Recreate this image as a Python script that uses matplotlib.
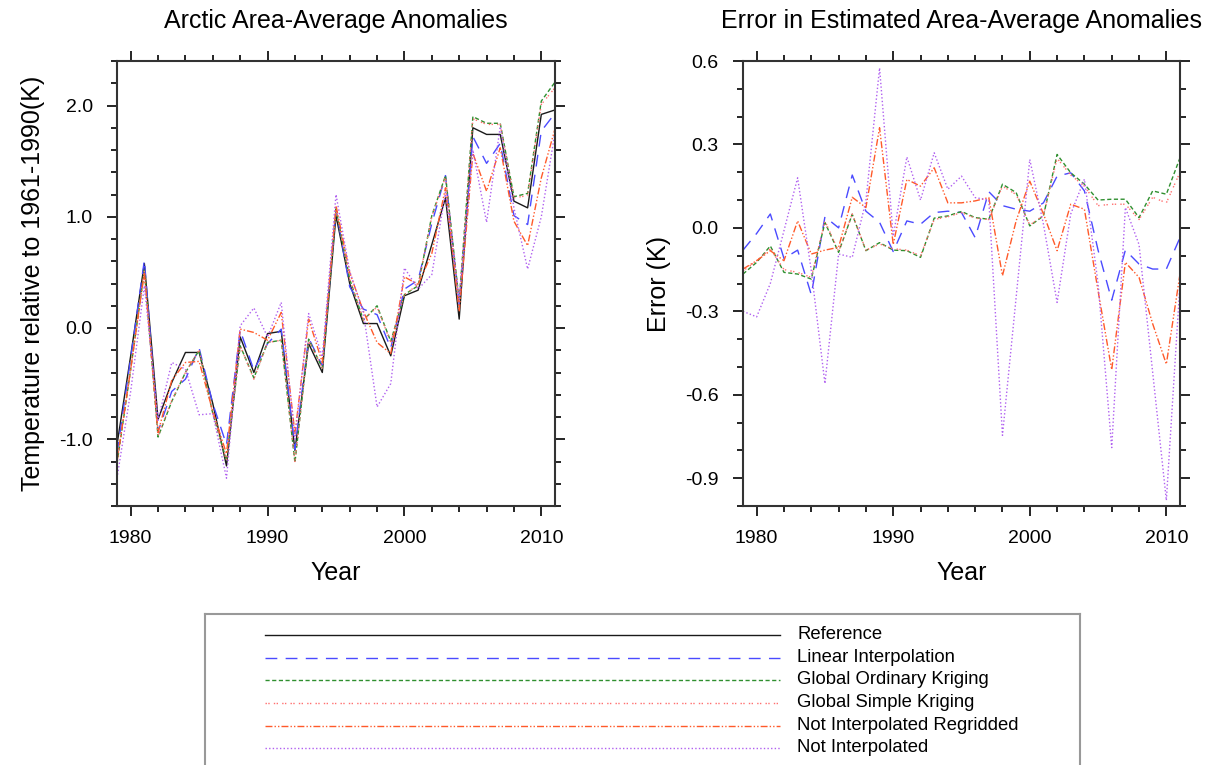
import matplotlib
matplotlib.use('Agg')
import matplotlib.pyplot as plt
from matplotlib.ticker import MultipleLocator, FormatStrFormatter

plt.rcParams['font.family'] = ['Liberation Sans', 'DejaVu Sans']
plt.rcParams['axes.unicode_minus'] = False

# 数据：年份与各方法的北极面平均距平 (K)
years = list(range(1979, 2012))

ref_anom = [-1.05, -0.25, 0.58, -0.82, -0.49, -0.22, -0.22, -0.68, -1.24, -0.08, -0.40,
            -0.05, -0.03, -1.10, -0.14, -0.40, 1.01, 0.40, 0.04, 0.04, -0.25, 0.29,
            0.34, 0.75, 1.17, 0.08, 1.80, 1.74, 1.74, 1.14, 1.08, 1.92, 1.96]
li_anom = [-1.13, -0.27, 0.61, -0.93, -0.57, -0.46, -0.18, -0.68, -1.05, -0.02, -0.38,
           -0.14, -0.01, -1.09, -0.09, -0.34, 1.07, 0.37, 0.17, 0.12, -0.18, 0.35,
           0.43, 0.94, 1.37, 0.21, 1.72, 1.48, 1.66, 1.01, 0.93, 1.77, 1.93]
gok_anom = [-1.22, -0.37, 0.52, -0.98, -0.66, -0.40, -0.20, -0.77, -1.19, -0.16, -0.45,
            -0.13, -0.11, -1.21, -0.10, -0.36, 1.07, 0.44, 0.07, 0.20, -0.12, 0.30,
            0.38, 1.01, 1.37, 0.24, 1.90, 1.84, 1.84, 1.18, 1.21, 2.04, 2.21]
gsk_anom = [-1.20, -0.37, 0.51, -0.97, -0.65, -0.40, -0.20, -0.77, -1.19, -0.16, -0.46,
            -0.13, -0.11, -1.20, -0.11, -0.36, 1.07, 0.44, 0.07, 0.19, -0.13, 0.30,
            0.39, 1.00, 1.36, 0.23, 1.88, 1.83, 1.83, 1.17, 1.19, 2.01, 2.16]
nir_anom = [-1.20, -0.37, 0.50, -0.94, -0.47, -0.31, -0.30, -0.75, -1.13, -0.01, -0.04,
            -0.11, 0.14, -0.95, 0.08, -0.31, 1.10, 0.50, 0.15, -0.13, -0.23, 0.46,
            0.39, 0.67, 1.26, 0.15, 1.57, 1.23, 1.62, 0.96, 0.74, 1.35, 1.79]
ni_anom = [-1.35, -0.57, 0.38, -0.83, -0.31, -0.37, -0.78, -0.77, -1.35, 0.02, 0.18,
           -0.08, 0.23, -1.00, 0.13, -0.26, 1.20, 0.51, 0.14, -0.71, -0.50, 0.54,
           0.35, 0.48, 1.22, 0.26, 1.60, 0.95, 1.81, 1.08, 0.53, 1.00, 1.76]

# 误差 (K)
li_err = [-0.08, -0.02, 0.05, -0.11, -0.08, -0.24, 0.04, 0.00, 0.19, 0.06, 0.02,
          -0.085, 0.025, 0.013, 0.055, 0.06, 0.055, -0.035, 0.13, 0.08, 0.067, 0.06,
          0.09, 0.186, 0.198, 0.133, -0.08, -0.26, -0.08, -0.13, -0.148, -0.148, -0.035]
gok_err = [-0.166, -0.124, -0.065, -0.16, -0.166, -0.184, 0.019, -0.088, 0.049, -0.082,
           -0.053, -0.08, -0.082, -0.106, 0.035, 0.043, 0.059, 0.037, 0.031, 0.157,
           0.127, 0.007, 0.043, 0.264, 0.198, 0.157, 0.10, 0.103, 0.103, 0.037, 0.133,
           0.121, 0.252]
gsk_err = [-0.155, -0.118, -0.075, -0.15, -0.16, -0.178, 0.025, -0.085, 0.05, -0.08,
           -0.058, -0.075, -0.08, -0.10, 0.03, 0.04, 0.055, 0.035, 0.03, 0.15, 0.12,
           0.01, 0.045, 0.25, 0.19, 0.15, 0.08, 0.085, 0.085, 0.03, 0.11, 0.09, 0.20]
nir_err = [-0.148, -0.118, -0.082, -0.118, 0.025, -0.094, -0.08, -0.07, 0.11, 0.073,
           0.36, -0.06, 0.174, 0.15, 0.216, 0.09, 0.09, 0.097, 0.109, -0.172, 0.025,
           0.168, 0.05, -0.082, 0.085, 0.067, -0.226, -0.51, -0.124, -0.178, -0.345,
           -0.49, -0.166]
ni_err = [-0.30, -0.32, -0.20, -0.01, 0.18, -0.154, -0.56, -0.094, -0.106, 0.097, 0.575,
          -0.03, 0.255, 0.10, 0.27, 0.139, 0.186, 0.109, 0.10, -0.746, -0.25, 0.246,
          0.013, -0.268, 0.05, 0.175, -0.20, -0.79, 0.073, -0.06, -0.52, -0.98, -0.20]

labels = ['Reference', 'Linear Interpolation', 'Global Ordinary Kriging',
          'Global Simple Kriging', 'Not Interpolated Regridded', 'Not Interpolated']

# 线型样式
styles = {
    'Reference': dict(color='#1a1a1a', linestyle='-'),
    'Linear Interpolation': dict(color='#4a4aff', linestyle=(0, (8.5, 6))),
    'Global Ordinary Kriging': dict(color='#2f8f2f', linestyle=(0, (3, 1.8))),
    'Global Simple Kriging': dict(color='#ff6f6f', linestyle=(0, (1, 1, 1, 3))),
    'Not Interpolated Regridded': dict(color='#ff5a2a', linestyle=(0, (5, 1.5, 1, 1.5, 1, 1.5))),
    'Not Interpolated': dict(color='#b060f0', linestyle=(0, (1, 1.6))),
}

W, H = 1218, 765
fig = plt.figure(figsize=(W / 100, H / 100), dpi=100)

ax1 = fig.add_axes([117 / W, 1 - 506 / H, 438 / W, 445 / H])
ax2 = fig.add_axes([743 / W, 1 - 506 / H, 437 / W, 445 / H])

left_series = [ref_anom, li_anom, gok_anom, gsk_anom, nir_anom, ni_anom]
for name, vals in zip(labels, left_series):
    ax1.plot(years, vals, lw=1.0, **styles[name])

right_series = [li_err, gok_err, gsk_err, nir_err, ni_err]
for name, vals in zip(labels[1:], right_series):
    ax2.plot(years, vals, lw=1.0, **styles[name])


def style_axes(ax, ylim, ymajor, yminor, title, ylabel):
    ax.set_xlim(1979, 2011)
    ax.set_ylim(*ylim)
    ax.xaxis.set_major_locator(MultipleLocator(10))
    ax.xaxis.set_minor_locator(MultipleLocator(2))
    ax.yaxis.set_major_locator(MultipleLocator(ymajor))
    ax.yaxis.set_minor_locator(MultipleLocator(yminor))
    ax.yaxis.set_major_formatter(FormatStrFormatter('%.1f'))
    ax.tick_params(which='both', direction='out', top=True, right=True,
                   width=1.2, colors='black', labelsize=14, pad=10)
    ax.tick_params(which='major', length=7.5)
    ax.tick_params(which='minor', length=4)
    for sp in ax.spines.values():
        sp.set_linewidth(1.5)
        sp.set_color('#333333')
    ax.set_title(title, fontsize=18, pad=24)
    ax.set_xlabel('Year', fontsize=18, labelpad=10)
    ax.set_ylabel(ylabel, fontsize=18, labelpad=10)


style_axes(ax1, (-1.6, 2.4), 1.0, 0.2, 'Arctic Area-Average Anomalies',
           'Temperature relative to 1961-1990(K)')
style_axes(ax2, (-1.0, 0.6), 0.3, 0.1, 'Error in Estimated Area-Average Anomalies',
           'Error (K)')

# 图例框
axl = fig.add_axes([205 / W, 0, 875 / W, 151 / H])
axl.set_xlim(0, 1)
axl.set_ylim(0, 1)
axl.set_xticks([])
axl.set_yticks([])
for side, sp in axl.spines.items():
    sp.set_color('#999999')
    sp.set_linewidth(1.5)
axl.spines['bottom'].set_visible(False)

row_y = [0.862, 0.710, 0.565, 0.412, 0.260, 0.114]
for name, yy in zip(labels, row_y):
    axl.plot([0.0686, 0.657], [yy, yy], lw=1.0, **styles[name])
    axl.text(0.6766, yy, name, fontsize=13.3, va='center', ha='left')

fig.savefig('out.png', dpi=100)
